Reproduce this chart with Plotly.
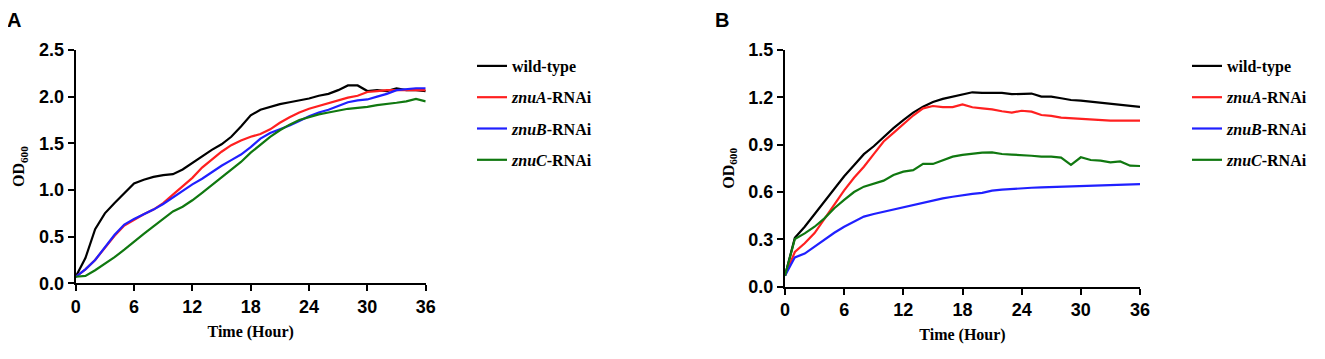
import plotly.graph_objects as go

hours = list(range(0, 37))

# Panel A
a_wild = [0.07, 0.27, 0.58, 0.75, 0.86, 0.96, 1.07, 1.11, 1.14, 1.16, 1.17, 1.22, 1.29, 1.36, 1.43, 1.49, 1.57, 1.68, 1.80, 1.86, 1.89, 1.92, 1.94, 1.96, 1.98, 2.01, 2.03, 2.07, 2.12, 2.12, 2.06, 2.07, 2.06, 2.09, 2.07, 2.07, 2.06]
a_znuA = [0.07, 0.15, 0.25, 0.38, 0.51, 0.62, 0.68, 0.74, 0.79, 0.86, 0.95, 1.04, 1.13, 1.24, 1.33, 1.41, 1.48, 1.53, 1.57, 1.60, 1.65, 1.72, 1.78, 1.83, 1.87, 1.90, 1.93, 1.96, 1.99, 2.01, 2.05, 2.06, 2.07, 2.07, 2.07, 2.07, 2.07]
a_znuB = [0.07, 0.15, 0.25, 0.39, 0.52, 0.63, 0.69, 0.74, 0.79, 0.85, 0.92, 0.99, 1.06, 1.12, 1.19, 1.26, 1.32, 1.38, 1.46, 1.55, 1.61, 1.65, 1.69, 1.74, 1.79, 1.83, 1.86, 1.90, 1.94, 1.96, 1.97, 2.00, 2.03, 2.07, 2.08, 2.09, 2.09]
a_znuC = [0.07, 0.08, 0.14, 0.21, 0.28, 0.36, 0.45, 0.53, 0.61, 0.69, 0.77, 0.82, 0.89, 0.97, 1.05, 1.13, 1.21, 1.30, 1.40, 1.49, 1.57, 1.64, 1.70, 1.75, 1.78, 1.81, 1.83, 1.85, 1.87, 1.88, 1.89, 1.91, 1.92, 1.935, 1.95, 1.975, 1.95]

# Panel B
b_wild = [0.07, 0.31, 0.38, 0.46, 0.54, 0.62, 0.70, 0.77, 0.84, 0.89, 0.95, 1.005, 1.056, 1.103, 1.141, 1.17, 1.19, 1.205, 1.22, 1.232, 1.228, 1.228, 1.228, 1.22, 1.222, 1.224, 1.205, 1.205, 1.194, 1.183, 1.179, 1.172, 1.166, 1.158, 1.15, 1.143, 1.139]
b_znuA = [0.07, 0.22, 0.275, 0.34, 0.43, 0.52, 0.61, 0.69, 0.76, 0.84, 0.92, 0.975, 1.03, 1.085, 1.13, 1.145, 1.138, 1.138, 1.155, 1.137, 1.13, 1.124, 1.112, 1.103, 1.115, 1.109, 1.088, 1.082, 1.071, 1.067, 1.063, 1.063, 1.056, 1.052, 1.052, 1.052, 1.052]
b_znuB = [0.07, 0.186, 0.21, 0.253, 0.30, 0.342, 0.38, 0.41, 0.444, 0.461, 0.475, 0.49, 0.503, 0.52, 0.534, 0.547, 0.56, 0.57, 0.58, 0.588, 0.595, 0.609, 0.615, 0.62, 0.624, 0.627, 0.63, 0.632, 0.634, 0.634, 0.634, 0.637, 0.64, 0.641, 0.642, 0.646, 0.65]
b_znuC = [0.07, 0.302, 0.338, 0.38, 0.433, 0.497, 0.55, 0.60, 0.634, 0.655, 0.672, 0.708, 0.729, 0.739, 0.778, 0.778, 0.80, 0.824, 0.835, 0.841, 0.85, 0.851, 0.841, 0.837, 0.835, 0.83, 0.824, 0.824, 0.818, 0.772, 0.82, 0.803, 0.799, 0.788, 0.794, 0.767, 0.765]

names = ["wild-type", "<i>znuA</i>-RNAi", "<i>znuB</i>-RNAi", "<i>znuC</i>-RNAi"]
colors = ["#000000", "#FF2020", "#2020FF", "#107810"]

x_ticks = [0, 6, 12, 18, 24, 30, 36]
a_yticks = [0.0, 0.5, 1.0, 1.5, 2.0, 2.5]
b_yticks = [0.0, 0.3, 0.6, 0.9, 1.2, 1.5]

# page body has an 8px margin; figure is sized to fit the window
OFF = 8
W, H = 1325 - OFF, 359 - OFF

def px(v):
    return (v - OFF) / W

def py(v):
    return 1 - (v - OFF) / H

fig = go.Figure()

for i, (ys, nm, c) in enumerate(zip([a_wild, a_znuA, a_znuB, a_znuC], names, colors)):
    fig.add_trace(go.Scatter(x=hours, y=ys, mode="lines", name=nm, line=dict(color=c, width=2.2),
                             xaxis="x", yaxis="y", legend="legend", legendgroup="a%d" % i))
for i, (ys, nm, c) in enumerate(zip([b_wild, b_znuA, b_znuB, b_znuC], names, colors)):
    fig.add_trace(go.Scatter(x=hours, y=ys, mode="lines", name=nm, line=dict(color=c, width=2.2),
                             xaxis="x2", yaxis="y2", legend="legend2", legendgroup="b%d" % i))

tickfont = dict(family="Liberation Sans, Arial", size=18, color="black", weight="bold")
titlefont = dict(family="Liberation Serif, Times New Roman", size=16, color="black", weight="bold")

def xax(domain, anchor):
    return dict(domain=domain, anchor=anchor, range=[0, 36], tickvals=x_ticks,
                showline=True, linecolor="black", linewidth=2, ticks="outside", ticklen=6,
                tickwidth=2, tickcolor="black", showgrid=False, zeroline=False, automargin=False,
                tickfont=tickfont, title=dict(text="Time (Hour)", font=titlefont, standoff=10))

def yax(domain, anchor, rng, ticks):
    return dict(domain=domain, anchor=anchor, range=rng, tickvals=ticks,
                ticktext=["%.1f" % t for t in ticks],
                showline=True, linecolor="black", linewidth=2, ticks="outside", ticklen=6,
                tickwidth=2, tickcolor="black", showgrid=False, zeroline=False, automargin=False,
                tickfont=tickfont, title=dict(text="OD<sub>600</sub>", font=titlefont, standoff=10))

legfont = dict(family="Liberation Serif, Times New Roman", size=16, color="black", weight="bold")

fig.update_layout(
    width=W, height=H, margin=dict(l=0, r=0, t=0, b=0),
    paper_bgcolor="white", plot_bgcolor="white",
    xaxis=xax([px(75.7), px(425.7)], "y"),
    yaxis=yax([py(283.3), py(50)], "x", [0, 2.5], a_yticks),
    xaxis2=xax([px(785), px(1140)], "y2"),
    yaxis2=yax([py(286.7), py(50)], "x2", [0, 1.5], b_yticks),
    legend=dict(x=px(472), y=py(49), xanchor="left", yanchor="top", font=legfont,
                tracegroupgap=7.5, bgcolor="rgba(0,0,0,0)", itemwidth=30),
    legend2=dict(x=px(1187), y=py(49), xanchor="left", yanchor="top", font=legfont,
                 tracegroupgap=7.5, bgcolor="rgba(0,0,0,0)", itemwidth=30),
    showlegend=True,
    annotations=[
        dict(text="<b>A</b>", x=px(14), y=py(20), xref="paper", yref="paper", showarrow=False,
             xanchor="center", yanchor="middle",
             font=dict(family="Liberation Sans, Arial", size=20, color="black")),
        dict(text="<b>B</b>", x=px(722), y=py(20), xref="paper", yref="paper", showarrow=False,
             xanchor="center", yanchor="middle",
             font=dict(family="Liberation Sans, Arial", size=20, color="black")),
    ],
)

fig.write_html("out.html")
